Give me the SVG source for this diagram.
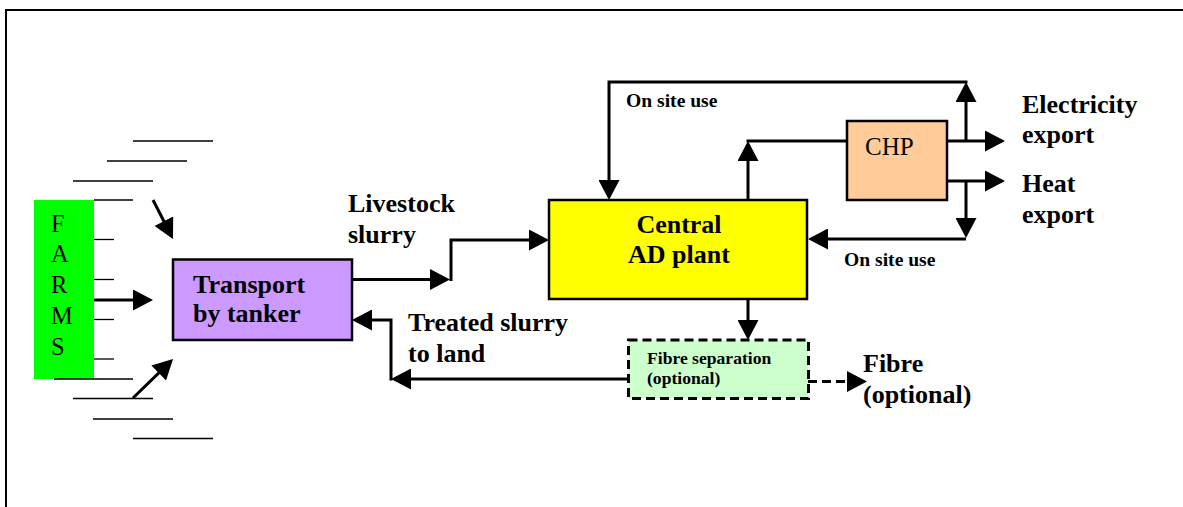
<svg xmlns="http://www.w3.org/2000/svg" width="1183" height="507" viewBox="0 0 1183 507">
<defs>
<marker id="ah" markerUnits="userSpaceOnUse" markerWidth="20" markerHeight="21" refX="17" refY="10.5" orient="auto" viewBox="0 0 20 21">
<path d="M0,0 L20,10.5 L0,21 Z" fill="#000"/>
</marker>
<style>
.c{fill:none;stroke:#000;stroke-width:3}
.a{marker-end:url(#ah)}
.thin{stroke:#000;stroke-width:1.3;fill:none}
.box{stroke:#000;stroke-width:2.5}
.b{font-family:"Liberation Serif","Times New Roman",serif;font-weight:bold;fill:#000}
.r{font-family:"Liberation Serif","Times New Roman",serif;fill:#000}
.big{font-size:26px}
</style>
</defs>
<rect width="1183" height="507" fill="#fff"/>
<path d="M6,520 V10 H1200" fill="none" stroke="#000" stroke-width="2"/>

<g id="farms">
<rect x="34" y="200" width="60" height="179" fill="#00ff00"/>
<g class="r" font-size="24.5">
<text x="51" y="232">F</text>
<text x="51" y="262">A</text>
<text x="51" y="293">R</text>
<text x="51" y="324">M</text>
<text x="51" y="355">S</text>
</g>
<g class="thin">
<line x1="133" y1="141" x2="213" y2="141"/>
<line x1="107" y1="161" x2="187" y2="161"/>
<line x1="73" y1="181" x2="153" y2="181"/>
<line x1="94" y1="200" x2="133" y2="200"/>
<line x1="94" y1="239.5" x2="114" y2="239.5"/>
<line x1="94" y1="279.5" x2="114" y2="279.5"/>
<line x1="94" y1="319.5" x2="114" y2="319.5"/>
<line x1="94" y1="359" x2="114" y2="359"/>
<line x1="54" y1="379" x2="133" y2="379"/>
<line x1="73" y1="398.5" x2="153" y2="398.5"/>
<line x1="93" y1="419" x2="173" y2="419"/>
<line x1="133" y1="438.5" x2="213" y2="438.5"/>
</g>
</g>

<g id="transport">
<rect class="box" x="173" y="259.5" width="179" height="80.5" fill="#cc99ff"/>
<text class="b big" x="193" y="293">Transport</text>
<text class="b big" x="193" y="322">by tanker</text>
</g>

<g id="ad">
<rect class="box" x="549" y="200" width="258" height="99" fill="#ffff00"/>
<text class="b big" x="679" y="233" text-anchor="middle">Central</text>
<text class="b big" x="679" y="263" text-anchor="middle">AD plant</text>
</g>

<g id="chp">
<rect class="box" x="847" y="121" width="100" height="79" fill="#ffcc99"/>
<text class="r" font-size="25" x="865" y="155">CHP</text>
</g>

<g id="fibresep">
<rect x="628.5" y="340" width="180" height="58.5" fill="#ccffcc" stroke="#000" stroke-width="3" stroke-dasharray="9,5"/>
<text class="b" font-size="17.6" x="647" y="364">Fibre separation</text>
<text class="b" font-size="17.6" x="647" y="384">(optional)</text>
</g>

<g id="labels">
<text class="b big" x="348" y="212">Livestock</text>
<text class="b big" x="348" y="243">slurry</text>
<text class="b big" x="408" y="331">Treated slurry</text>
<text class="b big" x="408" y="362">to land</text>
<text class="b" font-size="19.6" x="626" y="107">On site use</text>
<text class="b" font-size="19.6" x="844" y="266">On site use</text>
<text class="b big" x="1022" y="113">Electricity</text>
<text class="b big" x="1022" y="143">export</text>
<text class="b big" x="1022" y="192">Heat</text>
<text class="b big" x="1022" y="223">export</text>
<text class="b big" x="863" y="372">Fibre</text>
<text class="b big" x="863" y="403">(optional)</text>
</g>

<g id="connectors">
<path class="c a" d="M94,300 H150"/>
<path class="c a" d="M153,200 L171.6,236.3"/>
<path class="c a" d="M133,398 L170.9,361.1"/>
<path class="c a" d="M352,279.5 H447"/>
<path class="c a" d="M451,281 V240 H546"/>
<path class="c a" d="M628,379 H394"/>
<path class="c a" d="M391,380.5 V320 H355"/>
<path class="c a" d="M966,141 V85"/>
<path class="c a" d="M967.5,82 H609 V197"/>
<path class="c a" d="M748,200 V144"/>
<path class="c" d="M847,141 H746.5"/>
<path class="c a" d="M947,141 H1002"/>
<path class="c a" d="M947,181 H1002"/>
<path class="c a" d="M966,181 V235"/>
<path class="c a" d="M966,239 H811"/>
<path class="c a" d="M748,299 V337"/>
<path class="c a" d="M808,381.5 H864" stroke-dasharray="9,5"/>
</g>
</svg>
